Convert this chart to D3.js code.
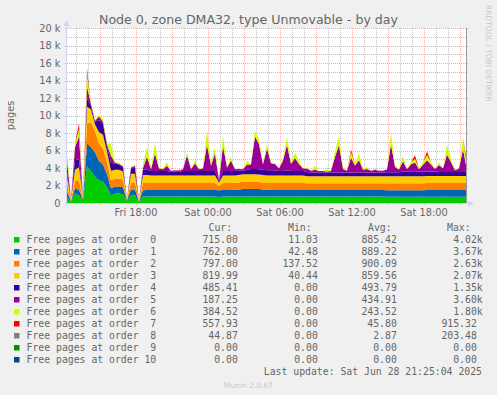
<!DOCTYPE html>
<html>
<head>
<meta charset="utf-8">
<script src="https://cdn.jsdelivr.net/npm/d3@7"></script>
<style>
    body { margin: 0; background: #f0f0f0; }
    svg { display: block; }
    text { font-family: "DejaVu Sans", sans-serif; fill: #666666; }
    text.mono { font-family: "DejaVu Sans Mono", monospace; white-space: pre; }
</style>
</head>
<body>
<svg id="chart" width="497" height="395"></svg>
<script>
// one sample every 20 minutes starting Fri 27 Jun 2025 12:15, values in thousands of pages
var startTime = new Date(2025, 5, 27, 12, 15);
var sampleMinutes = 20;

var order0 = [.7, .1, 1.1, .9, .3, 4.2, 3.6, 3.0, 2.6, 2.4,
    1.8, .9, 1.1, 1.1, 1.0, .2, .85, .85, .1, .75,
    .75, .75, .75, .75, .75, .75, .75, .75, .75, .75,
    .75, .75, .75, .75, .75, .75, .75, .75, .7, .75,
    .75, .75, .75, .75, .75, .75, .75, .75, .75, .75,
    .75, .75, .75, .75, .75, .75, .75, .75, .75, .75,
    .75, .75, .75, .75, .75, .75, .75, .75, .75, .75,
    .75, .75, .75, .75, .75, .75, .75, .75, .75, .75,
    .72, .72, .72, .72, .72, .72, .72, .72, .72, .72,
    .72, .72, .72, .72, .72, .72, .72, .72, .72, .72, .715];
var order1 = [.6, .1, .6, .6, .1, 2.6, 2.8, 2.8, 2.2, 2.0,
    1.5, .8, .8, .8, .8, .1, .7, .7, .05, .7,
    .75, .75, .75, .75, .75, .75, .75, .75, .75, .75,
    .75, .75, .75, .75, .75, .75, .75, .75, .75, .75,
    .75, .75, .75, .8, .85, .85, .85, .85, .85, .8,
    .75, .75, .75, .75, .75, .75, .75, .75, .75, .75,
    .75, .75, .75, .75, .75, .75, .75, .75, .75, .75,
    .75, .75, .75, .75, .75, .75, .75, .75, .75, .75,
    .75, .75, .75, .75, .75, .75, .75, .75, .75, .75,
    .76, .76, .76, .76, .76, .76, .76, .76, .76, .76, .762];
var order2 = [.75, .1, .9, 1.0, .1, 2.3, 2.8, 2.4, 2.0, 1.8,
    1.4, .9, .9, .9, .9, .1, .8, .8, .05, .85,
    .8, .8, .8, .8, .8, .8, .8, .8, .8, .8,
    .8, .8, .8, .8, .8, .8, .8, .8, .5, .8,
    .8, .8, .8, .8, .85, .85, .85, .85, .8, .8,
    .8, .8, .8, .8, .8, .8, .8, .8, .8, .8,
    .75, .75, .75, .75, .75, .75, .75, .75, .75, .75,
    .75, .75, .75, .75, .75, .75, .75, .75, .75, .75,
    .78, .78, .78, .78, .78, .78, .78, .78, .78, .78,
    .8, .8, .8, .8, .8, .8, .8, .8, .8, .8, .797];
var order3 = [.95, .1, 1.2, 1.6, .1, 1.9, 1.5, .8, 1.3, 1.6,
    1.2, 1.1, 1.0, 1.0, .9, .1, 1.0, 1.0, .05, .9,
    .9, .85, .85, .85, .85, .85, .85, .85, .85, .85,
    .85, .85, .85, .85, .85, .85, .85, .85, .4, .85,
    .85, .85, .85, .85, .85, .85, .85, .85, .85, .85,
    .85, .85, .85, .85, .85, .85, .85, .85, .85, .85,
    .8, .8, .8, .8, .8, .8, .8, .8, .8, .8,
    .8, .8, .8, .8, .8, .8, .8, .8, .8, .8,
    .82, .82, .82, .82, .82, .82, .82, .82, .82, .82,
    .82, .82, .82, .82, .82, .82, .82, .82, .82, .82, .82];
var order4 = [.4, 0, 1.1, .9, 0, 1.0, .4, .3, 1.4, 1.2,
    .6, .9, .7, .6, .5, 0, .6, .7, 0, .6,
    .6, .5, .5, .5, .5, .5, .4, .45, .4, .5,
    .5, .5, .5, .5, .5, .5, .5, .5, .2, .5,
    .5, .5, .5, .5, .4, .5, .6, .6, .6, .6,
    .6, .6, .6, .5, .5, .6, .5, .5, .5, .5,
    .5, .45, .45, .45, .45, .45, .45, .45, .45, .45,
    .45, .45, .45, .45, .45, .45, .45, .45, .45, .45,
    .45, .45, .45, .45, .5, .5, .55, .55, .5, .5,
    .5, .5, .5, .45, .45, .45, .45, .45, .45, .45, .485];
var order5 = [1.5, 0, 1.5, 2.6, 0, 1.3, .2, .1, .4, .3,
    .2, .8, .1, .1, .1, 0, .1, .2, 0, .2,
    1.5, .2, 2.0, .3, .2, .6, .1, .15, .1, .2,
    1.8, .2, .9, .2, .3, 3.0, .6, 2.0, .05, 2.9,
    .4, 1.2, .2, .2, .15, .6, .5, 3.7, 2.9, .6,
    2.5, .8, .7, .3, 1.2, 2.9, .8, 1.5, .8, .3,
    .4, .2, .3, .15, .15, .1, .15, 1.8, 3.1, .4,
    .2, 1.7, .8, 1.4, .3, .4, .2, .3, .2, .2,
    .3, 3.2, .6, .3, 1.2, .3, .8, 1.0, .3, .8,
    1.3, .8, .3, .8, .4, 2.0, 1.1, .2, .4, 2.6, .187];
var order6 = [1.1, 0, .4, .8, 0, 1.4, .1, .1, .2, .3,
    .1, 1.4, .05, .1, 0, 0, .05, .1, 0, .1,
    1.2, .1, 1.2, .1, .1, .4, 0, 0, 0, 0,
    .4, 0, .4, 0, .05, 1.6, .2, .7, 0, 1.2,
    .1, .4, 0, 0, 0, .4, .1, .7, .5, .1,
    .5, .1, .1, 0, .3, .9, .2, .6, .4, 0,
    .1, 0, .5, 0, 0, .25, 0, .6, 1.1, .2,
    0, .6, .3, .7, .1, .2, 0, .1, 0, 0,
    0, 1.3, .2, .1, .6, 0, .3, .4, .1, .3,
    .6, .3, 0, .3, 0, 1.1, .4, 0, .1, 1.3, .385];
var order7 = [0, 0, 0, .7, 0, .5, 0, 0, 0, 0,
    0, 0, 0, 0, 0, 0, 0, 0, 0, .1,
    0, 0, 0, 0, 0, 0, 0, 0, .1, 0,
    0, 0, 0, 0, 0, 0, .1, 0, 0, 0,
    0, 0, 0, 0, 0, 0, 0, 0, 0, 0,
    0, 0, 0, 0, 0, 0, 0, 0, 0, 0,
    0, 0, 0, 0, 0, 0, 0, 0, 0, 0,
    0, .3, 0, 0, 0, 0, 0, 0, 0, 0,
    0, 0, 0, 0, 0, 0, 0, .4, 0, 0,
    .4, 0, 0, 0, 0, 0, 0, 0, 0, 0, .558];
var order8 = [0, 0, 0, 0, 0, .2, 0, 0, 0, 0,
    0, 0, 0, 0, 0, 0, 0, 0, 0, 0,
    0, 0, 0, 0, 0, 0, 0, 0, 0, 0,
    0, 0, 0, 0, 0, 0, 0, 0, 0, 0,
    0, 0, 0, 0, 0, 0, 0, 0, 0, 0,
    0, 0, 0, 0, 0, 0, 0, 0, 0, 0,
    0, 0, 0, 0, 0, 0, 0, 0, 0, 0,
    0, 0, 0, 0, 0, 0, 0, 0, 0, 0,
    0, 0, 0, 0, 0, 0, 0, 0, 0, 0,
    0, 0, 0, 0, 0, 0, 0, 0, 0, 0, .045];
var order9 = order8.map(function () { return 0; });
var order10 = order8.map(function () { return 0; });

var seriesNames = ["Free pages at order  0", "Free pages at order  1", "Free pages at order  2",
    "Free pages at order  3", "Free pages at order  4", "Free pages at order  5",
    "Free pages at order  6", "Free pages at order  7", "Free pages at order  8",
    "Free pages at order  9", "Free pages at order 10"];
var seriesColors = ["#00CC00", "#0066B3", "#FF8000", "#FFCC00", "#330099", "#990099",
    "#CCFF00", "#FF0000", "#808080", "#008F00", "#00487D"];

// legend numbers as printed by munin
var curValues = [715.00, 762.00, 797.00, 819.99, 485.41, 187.25, 384.52, 557.93, 44.87, 0, 0];
var minValues = [11.03, 42.48, 137.52, 40.44, 0, 0, 0, 0, 0, 0, 0];
var avgValues = [885.42, 889.22, 900.09, 859.56, 493.79, 434.91, 243.52, 45.80, 2.87, 0, 0];
var maxValues = [4020, 3670, 2630, 2070, 1350, 3600, 1800, 915.32, 203.48, 0, 0];

var yTicks = [0, 2, 4, 6, 8, 10, 12, 14, 16, 18, 20];
var lastUpdate = "Last update: Sat Jun 28 21:25:04 2025";

var svg = d3.select("#chart");
// canvas edges (window.top is taken, so prefix them)
var plotLeft = 67, plotRight = 467, plotTop = 28, plotBottom = 203;

var allSeries = [order0, order1, order2, order3, order4, order5, order6, order7, order8, order9, order10];
var keys = allSeries.map(function (s, k) { return "o" + k; });

// build the table d3.stack wants
var table = order0.map(function (d, i) {
    var row = { time: d3.timeMinute.offset(startTime, i * sampleMinutes) };
    allSeries.forEach(function (s, k) { row["o" + k] = s[i]; });
    return row;
});

var x = d3.scaleTime()
    .domain([table[0].time, table[table.length - 1].time])
    .range([plotLeft, plotRight]);
var y = d3.scaleLinear().domain([0, 20]).range([plotBottom, plotTop]);

// canvas
svg.append("rect")
    .attr("x", plotLeft).attr("y", plotTop)
    .attr("width", plotRight - plotLeft).attr("height", plotBottom - plotTop)
    .attr("fill", "#ffffff");

var minorColor = "rgba(143,143,143,0.55)";
var majorColor = "rgba(222,79,79,0.45)";

// minor grid
var minorY = d3.range(1, 20, 2);
svg.selectAll(".minorY").data(minorY).enter().append("line")
    .attr("x1", plotLeft).attr("x2", plotRight)
    .attr("y1", function (d) { return Math.round(y(d)) + 0.5; })
    .attr("y2", function (d) { return Math.round(y(d)) + 0.5; })
    .attr("stroke", minorColor).attr("stroke-dasharray", "1,1");
var hours = x.ticks(d3.timeHour.every(1));
svg.selectAll(".minorX").data(hours.filter(function (d) { return d.getHours() % 3 != 0; })).enter().append("line")
    .attr("x1", function (d) { return Math.round(x(d)) + 0.5; })
    .attr("x2", function (d) { return Math.round(x(d)) + 0.5; })
    .attr("y1", plotTop).attr("y2", plotBottom)
    .attr("stroke", minorColor).attr("stroke-dasharray", "1,1");

// major grid
svg.selectAll(".majorY").data(yTicks.slice(1)).enter().append("line")
    .attr("x1", plotLeft - 2).attr("x2", plotRight + 2)
    .attr("y1", function (d) { return Math.round(y(d)) + 0.5; })
    .attr("y2", function (d) { return Math.round(y(d)) + 0.5; })
    .attr("stroke", majorColor).attr("stroke-dasharray", "1,1");
svg.selectAll(".majorX").data(hours.filter(function (d) { return d.getHours() % 3 == 0; })).enter().append("line")
    .attr("x1", function (d) { return Math.round(x(d)) + 0.5; })
    .attr("x2", function (d) { return Math.round(x(d)) + 0.5; })
    .attr("y1", plotTop).attr("y2", plotBottom + 2)
    .attr("stroke", majorColor).attr("stroke-dasharray", "1,1");

// stacked areas
var stacked = d3.stack().keys(keys)(table);
var area = d3.area()
    .x(function (d) { return x(d.data.time); })
    .y0(function (d) { return y(d[0]); })
    .y1(function (d) { return y(d[1]); });
svg.selectAll(".layer").data(stacked).enter().append("path")
    .attr("d", area)
    .attr("fill", function (d, k) { return seriesColors[k]; });

// line at the right end of the data
svg.append("line")
    .attr("x1", plotRight - 0.5).attr("x2", plotRight - 0.5)
    .attr("y1", plotTop).attr("y2", plotBottom)
    .attr("stroke", "#999999");

// axes with arrows
svg.append("line")
    .attr("x1", plotLeft - 0.5).attr("x2", plotLeft - 0.5)
    .attr("y1", plotBottom + 2).attr("y2", plotTop - 5)
    .attr("stroke", "#CFD6F8");
svg.append("path")
    .attr("d", "M" + (plotLeft - 3.5) + "," + (plotTop - 2) + "L" + (plotLeft + 2.5) + "," + (plotTop - 2) +
        "L" + (plotLeft - 0.5) + "," + (plotTop - 8) + "Z")
    .attr("fill", "#CFD6F8");
svg.append("line")
    .attr("x1", plotLeft - 2).attr("x2", plotRight + 4)
    .attr("y1", plotBottom + 0.5).attr("y2", plotBottom + 0.5)
    .attr("stroke", "#CFD6F8");
svg.append("path")
    .attr("d", "M" + (plotRight + 1) + "," + (plotBottom - 2.5) + "L" + (plotRight + 1) + "," + (plotBottom + 3.5) +
        "L" + (plotRight + 7) + "," + (plotBottom + 0.5) + "Z")
    .attr("fill", "#CFD6F8");

// y labels
svg.selectAll(".ylab").data(yTicks).enter().append("text")
    .attr("x", 60.5)
    .attr("y", function (d) { return y(d) + 3.6; })
    .attr("text-anchor", "end")
    .style("font-size", "9.8px")
    .text(function (d) { return d == 0 ? "0" : d + " k"; });

// x labels every 6 hours
var fmt = d3.timeFormat("%a %H:%M");
svg.selectAll(".xlab").data(hours.filter(function (d) { return d.getHours() % 6 == 0; })).enter().append("text")
    .attr("x", function (d) { return x(d); })
    .attr("y", 215.5)
    .attr("text-anchor", "middle")
    .style("font-size", "9.8px")
    .text(fmt);

// title and side texts
svg.append("text")
    .attr("x", 248.5).attr("y", 23.5)
    .attr("text-anchor", "middle")
    .style("font-size", "12.6px")
    .text("Node 0, zone DMA32, type Unmovable - by day");
svg.append("text")
    .attr("transform", "translate(14,115.5) rotate(-90)")
    .attr("text-anchor", "middle")
    .style("font-size", "9.8px")
    .text("pages");
svg.append("text")
    .attr("transform", "translate(486,5) rotate(90)")
    .style("font-size", "7.5px")
    .style("fill", "#c8c8c8")
    .text("RRDTOOL / TOBI OETIKER");
svg.append("text")
    .attr("x", 248.5).attr("y", 387.5)
    .attr("text-anchor", "middle")
    .style("font-size", "7.5px")
    .style("fill", "#c8c8c8")
    .text("Munin 2.0.67");

// legend
function legendNumber(v) {
    return v >= 1000 ? (v / 1000).toFixed(2) + "k" : v.toFixed(2) + "\u00a0";
}
var headers = [["Cur:", 208.5], ["Min:", 288], ["Avg:", 368], ["Max:", 447]];
svg.selectAll(".head").data(headers).enter().append("text")
    .attr("class", "mono")
    .attr("x", function (d) { return d[1]; })
    .attr("y", 230.5)
    .style("font-size", "9.8px")
    .text(function (d) { return d[0]; });

var rows = svg.selectAll(".row").data(seriesNames).enter().append("g")
    .attr("transform", function (d, k) { return "translate(0," + (242.5 + k * 12) + ")"; });
rows.append("rect")
    .attr("x", 14).attr("y", -5.5)
    .attr("width", 5.5).attr("height", 5.5)
    .attr("fill", function (d, k) { return seriesColors[k]; });
rows.append("text")
    .attr("class", "mono")
    .attr("x", 26.5)
    .style("font-size", "9.8px")
    .text(function (d) { return d; });
var columns = [[curValues, 243.7], [minValues, 323.7], [avgValues, 402.7], [maxValues, 482.7]];
columns.forEach(function (c) {
    rows.append("text")
        .attr("class", "mono")
        .attr("x", c[1])
        .attr("text-anchor", "end")
        .style("font-size", "9.8px")
        .text(function (d, k) { return legendNumber(c[0][k]); });
});
svg.append("text")
    .attr("class", "mono")
    .attr("x", 482)
    .attr("y", 374.5)
    .attr("text-anchor", "end")
    .style("font-size", "9.8px")
    .text(lastUpdate);
</script>
</body>
</html>
